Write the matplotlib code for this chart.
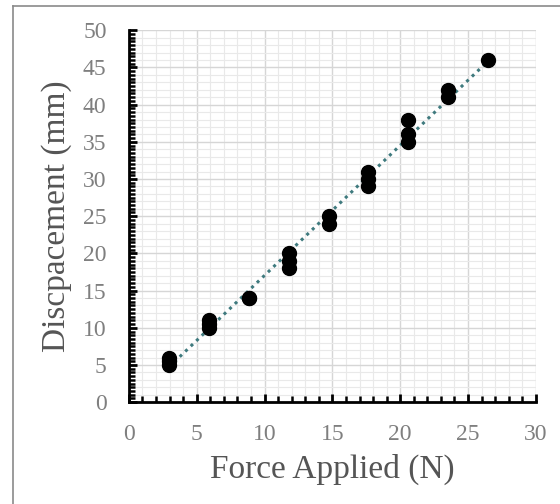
import numpy as np
import matplotlib
matplotlib.use("Agg")
import matplotlib.pyplot as plt
from matplotlib.ticker import MultipleLocator
from matplotlib.lines import Line2D

# force applied (N) and measured displacement (mm)
force = [2.94, 2.94, 2.94,
         5.89, 5.89, 5.89,
         8.83, 8.83,
         11.77, 11.77, 11.77,
         14.72, 14.72,
         17.66, 17.66, 17.66,
         20.60, 20.60, 20.60,
         23.54, 23.54,
         26.49]
disp = [5, 5.5, 6,
        10, 10.5, 11,
        14, 14,
        18, 19, 20,
        24, 25,
        29, 30, 31,
        35, 36, 38,
        41, 42,
        46]

plt.rcParams['font.family'] = ['Liberation Serif', 'DejaVu Serif']

fig = plt.figure(figsize=(5.6, 5.04), dpi=100)
ax = fig.add_axes([0.230, 0.202, 0.727, 0.738])

# chart border (only left and top edges fall inside the picture)
bx, by = 12.5 / 560, 1 - 5.5 / 504
fig.lines.append(Line2D([bx, bx], [0, by], transform=fig.transFigure, color='#8a8a8a', lw=1.2))
fig.lines.append(Line2D([bx, 1], [by, by], transform=fig.transFigure, color='#8a8a8a', lw=1.2))

ax.set_xlim(0, 30)
ax.set_ylim(0, 50)

# gridlines: minor every 1, major every 5
for v in range(1, 31):
    ax.axvline(v, color='#e9e9e9' if v % 5 else '#d6d6d6', lw=0.8 if v % 5 else 1.0, zorder=0)
for v in range(1, 51):
    ax.axhline(v, color='#e9e9e9' if v % 5 else '#d6d6d6', lw=0.8 if v % 5 else 1.0, zorder=0)

ax.scatter(force, disp, s=100, color='black', zorder=3)

# linear trendline
k, b = np.polyfit(force, disp, 1)
xs = np.array([min(force), max(force)])
ax.plot(xs, k * xs + b, linestyle=(0, (1, 1.5)), color='#3f7a7e', linewidth=2.2, zorder=2)

ax.xaxis.set_major_locator(MultipleLocator(5))
ax.yaxis.set_major_locator(MultipleLocator(5))
ax.xaxis.set_minor_locator(MultipleLocator(1))
ax.yaxis.set_minor_locator(MultipleLocator(0.5))

for s in ['top', 'right']:
    ax.spines[s].set_visible(False)
for s in ['left', 'bottom']:
    ax.spines[s].set_linewidth(2)
    ax.spines[s].set_color('black')

ax.tick_params(which='major', direction='in', length=6, width=2, labelsize=17,
               labelcolor='#7f7f7f', pad=16)
ax.tick_params(which='minor', direction='in', length=4, width=1.8)

ax.set_xlabel('Force Applied (N)', fontsize=24, color='#555555', labelpad=6)
ax.set_ylabel('Discpacement (mm)', fontsize=24, color='#555555', labelpad=8)

fig.savefig('out.png', dpi=100)
